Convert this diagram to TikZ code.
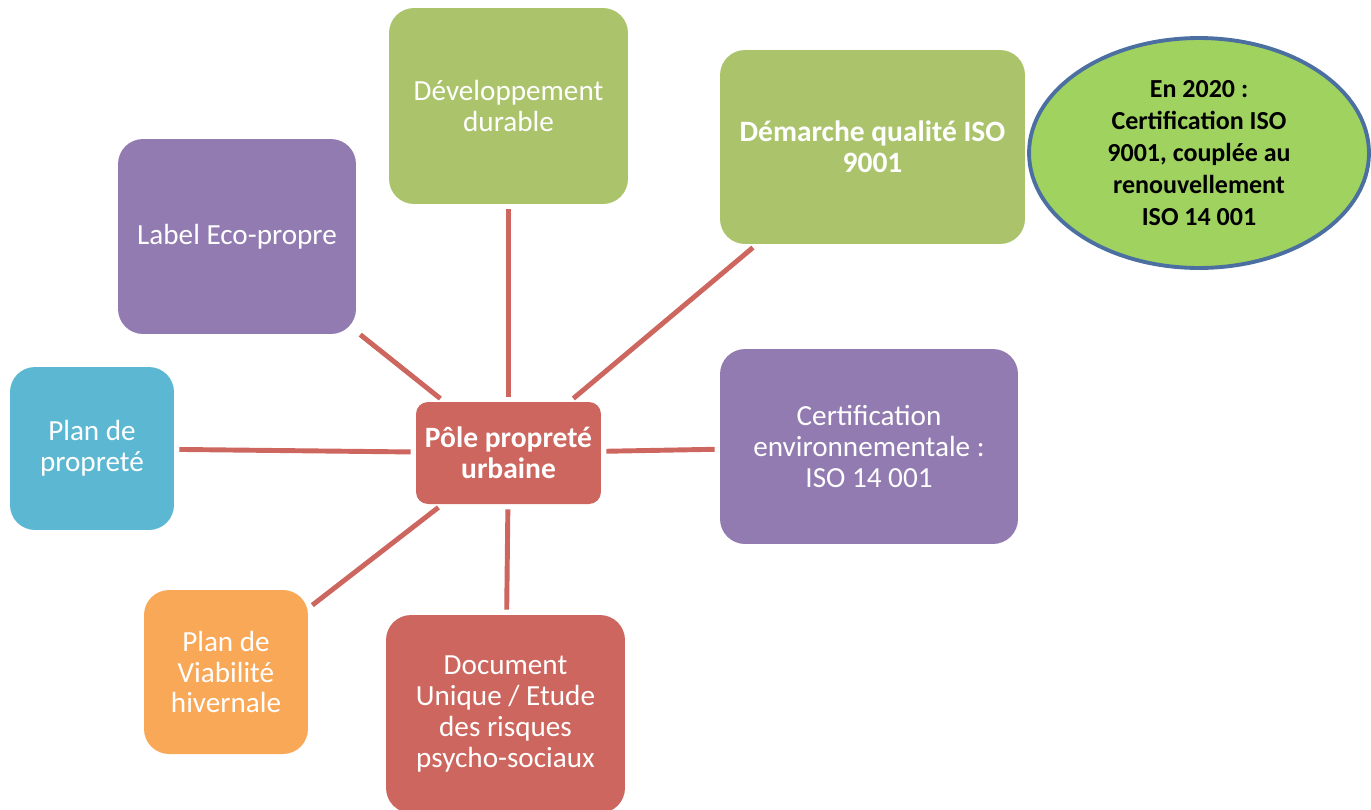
\documentclass[tikz,border=0pt]{standalone}
\usepackage{fontspec}
\setmainfont{Carlito}
\usepackage{tikz}
\usetikzlibrary{shapes.geometric}
\definecolor{rouge}{RGB}{205,102,94}
\definecolor{vert}{RGB}{171,196,108}
\definecolor{violet}{RGB}{146,123,176}
\definecolor{bleu}{RGB}{92,184,210}
\definecolor{orange}{RGB}{249,168,88}
\definecolor{vertvif}{RGB}{160,210,96}
\definecolor{bord}{RGB}{74,111,160}

\begin{document}
\begin{tikzpicture}[x=0.02cm,y=-0.02cm,
  bloc/.style={shape=rectangle,rounded corners=0.5cm,align=center,text=white,inner sep=2pt,
    font=\fontsize{16.6}{17.6}\selectfont},
  lien/.style={draw=rouge,line width=2.8pt,shorten <=0.1cm,shorten >=0.1cm}]
\useasboundingbox (0,0) rectangle (1371,809);
\node[bloc,fill=rouge,rounded corners=0.24cm,minimum width=3.7cm,minimum height=2.04cm,font=\fontsize{16.8}{17.6}\selectfont\bfseries] (P) at (508.5,453) {Pôle propreté\\urbaine};
\node[bloc,fill=vert,minimum width=4.78cm,minimum height=3.92cm] (D) at (508.5,106) {Développement\\durable};
\node[bloc,fill=vert,minimum width=6.1cm,minimum height=3.88cm,font=\fontsize{16.8}{17.6}\selectfont\bfseries] (Q) at (872.5,147) {Démarche qualité ISO\\9001};
\node[shape=ellipse,draw=bord,line width=2.2pt,fill=vertvif,minimum width=6.8cm,minimum height=4.6cm,inner sep=0pt,align=center,font=\fontsize{14.8}{18.2}\selectfont\bfseries] (E) at (1199,153) {En 2020 :\\Certification ISO\\9001, couplée au\\renouvellement\\ISO 14 001};
\node[bloc,fill=violet,minimum width=4.76cm,minimum height=3.9cm] (L) at (237,236.5) {Label Eco-propre};
\node[bloc,fill=bleu,minimum width=3.28cm,minimum height=3.26cm] (R) at (92,448.5) {Plan de\\propreté};
\node[bloc,fill=violet,minimum width=5.96cm,minimum height=3.9cm] (C) at (869,446.5) {Certification\\environnementale :\\ISO 14 001};
\node[bloc,fill=orange,minimum width=3.28cm,minimum height=3.28cm] (V) at (226,672) {Plan de\\Viabilité\\hivernale};
\node[bloc,fill=rouge,minimum width=4.78cm,minimum height=3.96cm] (U) at (505.5,714) {Document\\Unique / Etude\\des risques\\psycho-sociaux};
\path [lien] (D) edge (P);
\path [lien] (Q) edge (P);
\path [lien] (L) edge (P);
\path [lien] (R) edge (P);
\path [lien] (C) edge (P);
\path [lien] (V) edge (P);
\path [lien] (U) edge (P);
\end{tikzpicture}
\end{document}
